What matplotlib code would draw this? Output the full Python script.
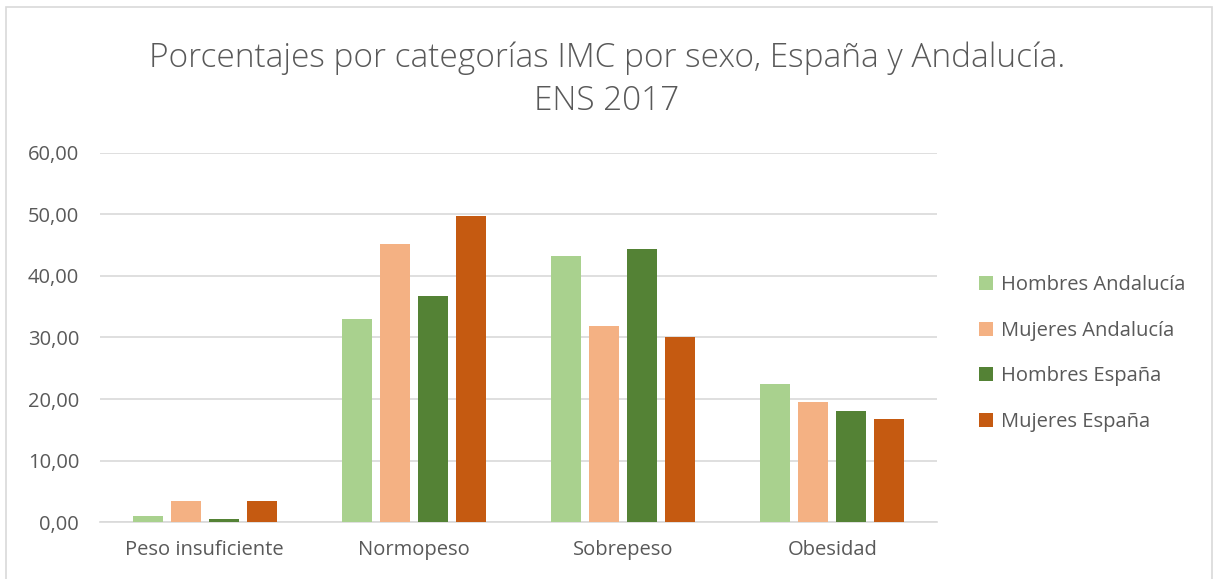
import numpy as np
import matplotlib
matplotlib.use("Agg")
import matplotlib.pyplot as plt
from matplotlib.patches import Rectangle

categories = ["Peso insuficiente", "Normopeso", "Sobrepeso", "Obesidad"]
series_names = ["Hombres Andalucía", "Mujeres Andalucía", "Hombres España", "Mujeres España"]
hombres_andalucia = [1.1, 33.0, 43.3, 22.5]
mujeres_andalucia = [3.4, 45.2, 31.8, 19.5]
hombres_espana = [0.6, 36.7, 44.3, 18.1]
mujeres_espana = [3.5, 49.7, 30.0, 16.7]
yticks = [0, 10, 20, 30, 40, 50, 60]

colors = ["#A9D18E", "#F4B183", "#548235", "#C55A11"]
text_color = "#595959"

plt.rcParams["font.family"] = ["Open Sans", "DejaVu Sans"]

fig = plt.figure(figsize=(12.14, 5.79), dpi=100)
fig.patches.append(Rectangle((6 / 1214, -0.01), 1206 / 1214, 1 - 7 / 579 + 0.01,
                             transform=fig.transFigure, fill=False,
                             edgecolor="#D9D9D9", linewidth=1.2))

ax = fig.add_axes([100 / 1214, 1 - 522.3 / 579, 837 / 1214, 369.6 / 579])

x = np.arange(len(categories))
width = 30 / 209
step = 38 / 209
all_series = [hombres_andalucia, mujeres_andalucia, hombres_espana, mujeres_espana]
for i, (vals, name) in enumerate(zip(all_series, series_names)):
    ax.bar(x + (i - 1.5) * step, vals, width, color=colors[i], label=name, zorder=3)

ax.set_xlim(-0.5, len(categories) - 0.5)
ax.set_ylim(0, 60)
ax.set_yticks(yticks)
ax.set_yticklabels([f"{v:.2f}".replace(".", ",") for v in yticks])
ax.set_xticks(x)
ax.set_xticklabels(categories)
ax.tick_params(axis="both", length=0, labelsize=14.5, colors=text_color)
ax.tick_params(axis="y", pad=15)
ax.tick_params(axis="x", pad=13)
ax.grid(axis="y", color="#D9D9D9", linewidth=1.2, zorder=0)
for s in ["top", "right", "left"]:
    ax.spines[s].set_visible(False)
ax.spines["bottom"].set_color("#D9D9D9")
ax.spines["bottom"].set_linewidth(1.2)

fig.text(0.5, 1 - 80 / 579, "Porcentajes por categorías IMC por sexo, España y Andalucía.\nENS 2017",
         ha="center", va="center", fontsize=24, color=text_color, linespacing=1.38,
         fontweight="light")

ax.legend(loc="center left", bbox_to_anchor=(1.029, 0.457), frameon=False,
          fontsize=14.5, labelcolor=text_color, handlelength=0.7, handleheight=0.7,
          handletextpad=0.35, labelspacing=1.27)

fig.savefig("out.png", dpi=100)
